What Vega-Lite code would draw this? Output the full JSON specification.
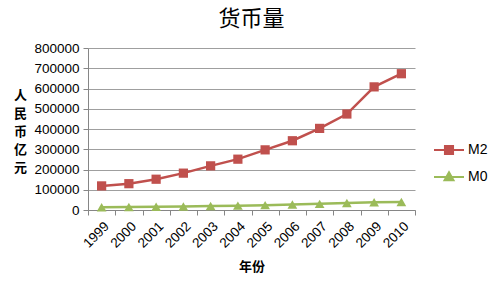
{
  "$schema": "https://vega.github.io/schema/vega-lite/v6.json",
  "autosize": "none",
  "width": 327,
  "height": 162,
  "padding": {"left": 88, "top": 48, "right": 85, "bottom": 74},
  "background": "white",
  "title": {"text": "货币量", "font": "Noto Sans CJK SC", "fontSize": 22, "fontWeight": "normal", "color": "#000000", "anchor": "middle", "offset": 10},
  "data": {"values": [
    {"year": "1999", "series": "M2", "value": 119000},
    {"year": "2000", "series": "M2", "value": 130000},
    {"year": "2001", "series": "M2", "value": 152000},
    {"year": "2002", "series": "M2", "value": 182000},
    {"year": "2003", "series": "M2", "value": 218000},
    {"year": "2004", "series": "M2", "value": 251000},
    {"year": "2005", "series": "M2", "value": 297000},
    {"year": "2006", "series": "M2", "value": 342000},
    {"year": "2007", "series": "M2", "value": 403000},
    {"year": "2008", "series": "M2", "value": 474000},
    {"year": "2009", "series": "M2", "value": 608000},
    {"year": "2010", "series": "M2", "value": 673000},
    {"year": "1999", "series": "M0", "value": 13456},
    {"year": "2000", "series": "M0", "value": 14653},
    {"year": "2001", "series": "M0", "value": 15689},
    {"year": "2002", "series": "M0", "value": 17278},
    {"year": "2003", "series": "M0", "value": 19746},
    {"year": "2004", "series": "M0", "value": 21468},
    {"year": "2005", "series": "M0", "value": 24032},
    {"year": "2006", "series": "M0", "value": 27073},
    {"year": "2007", "series": "M0", "value": 30375},
    {"year": "2008", "series": "M0", "value": 34219},
    {"year": "2009", "series": "M0", "value": 38246},
    {"year": "2010", "series": "M0", "value": 39500}
  ]},
  "encoding": {
    "x": {"field": "year", "type": "ordinal", "scale": {"type": "band", "paddingInner": 0, "paddingOuter": 0},
      "axis": {"title": "年份", "titleFont": "Noto Sans CJK SC", "titleFontSize": 13, "titleFontWeight": "bold", "titleColor": "#000000", "titlePadding": 11,
        "labelAngle": -45, "labelFont": "Liberation Sans", "labelFontSize": 13.5, "labelColor": "#000000", "labelPadding": 4,
        "tickBand": "extent", "domainColor": "#868686", "tickColor": "#868686", "tickSize": 5, "grid": false}},
    "y": {"field": "value", "type": "quantitative", "scale": {"domain": [0, 800000]},
      "axis": {"values": [0, 100000, 200000, 300000, 400000, 500000, 600000, 700000, 800000], "format": "d",
        "title": ["人", "民", "币", "亿", "元"], "titleAngle": 0, "titleX": -68, "titleY": 47, "titleAlign": "center", "titleBaseline": "middle",
        "titleFont": "Noto Sans CJK SC", "titleFontSize": 13, "titleFontWeight": "bold", "titleColor": "#000000", "titleLineHeight": 18,
        "labelFont": "Liberation Sans", "labelFontSize": 13.5, "labelColor": "#000000", "labelPadding": 4,
        "domainColor": "#868686", "tickColor": "#868686", "tickSize": 5, "grid": true, "gridColor": "#868686", "gridWidth": 0.8}},
    "color": {"field": "series", "type": "nominal", "scale": {"domain": ["M2", "M0"], "range": ["#C0504D", "#9BBB59"]},
      "legend": {"orient": "none", "legendX": 345, "legendY": 92, "title": null, "symbolSize": 900, "symbolStrokeWidth": 2,
         "clipHeight": 20, "rowPadding": 7, "labelFont": "Liberation Sans", "labelFontSize": 14, "labelColor": "#000000", "labelOffset": 3,
         "encode": {"symbols": {"update": {"shape": {"signal": "datum.value === 'M2' ? 'M-1,0H1M-0.27,-0.27H0.27V0.27H-0.27Z' : 'M-1,0H1M0,-0.32L0.3,0.22H-0.3Z'"}, "fill": {"signal": "datum.value === 'M2' ? '#C0504D' : '#9BBB59'"}, "fillOpacity": {"value": 1}}}}}}
  },
  "layer": [
    {"mark": {"type": "line", "strokeWidth": 2.5}},
    {"transform": [{"filter": "datum.series === 'M2'"}],
     "mark": {"type": "point", "shape": "square", "filled": true, "opacity": 1, "size": 85}},
    {"transform": [{"filter": "datum.series === 'M0'"}],
     "mark": {"type": "point", "shape": "triangle-up", "filled": true, "opacity": 1, "size": 95}}
  ],
  "config": {"view": {"stroke": null}}
}
